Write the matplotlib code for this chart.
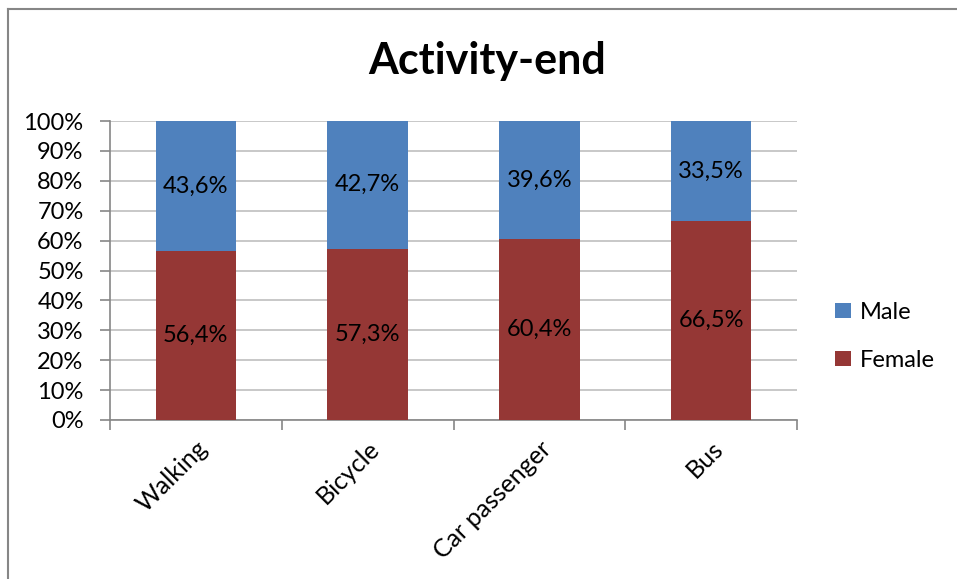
import matplotlib.pyplot as plt
from matplotlib.lines import Line2D
import numpy as np

categories = ['Walking', 'Bicycle', 'Car passenger', 'Bus']
female = [56.4, 57.3, 60.4, 66.5]
male = [43.6, 42.7, 39.6, 33.5]

BLUE = '#4F81BD'
RED = '#953735'

plt.rcParams['font.family'] = ['Lato', 'DejaVu Sans']

fig = plt.figure(figsize=(9.57, 5.79), dpi=100)
ax = fig.add_axes([110 / 957, 1 - 420 / 579, 687 / 957, 299 / 579])

x = np.arange(len(categories))
b1 = ax.bar(x, female, width=0.47, color=RED, label='Female', zorder=3)
b2 = ax.bar(x, male, width=0.47, bottom=female, color=BLUE, label='Male', zorder=3)

for bars, vals in ((b1, female), (b2, male)):
    labels = [f'{v:.1f}%'.replace('.', ',') for v in vals]
    ax.bar_label(bars, labels=labels, label_type='center', fontsize=17, color='black')

ax.set_xlim(-0.5, len(categories) - 0.5)
ax.set_ylim(0, 100)
ax.set_yticks(range(0, 101, 10))
ax.set_yticklabels([f'{v}%' for v in range(0, 101, 10)], fontsize=17)
ax.grid(axis='y', color='#BFBFBF', linewidth=1.2, zorder=0)

ax.set_xticks(x)
ax.set_xticklabels(categories, fontsize=18, rotation=45, ha='right', rotation_mode='anchor')
ax.tick_params(axis='x', length=0, pad=12)
# category boundary ticks along the bottom axis
ax.set_xticks(np.arange(-0.5, len(categories)), minor=True)
ax.tick_params(axis='x', which='minor', length=7, color='#868686', width=1.2)
ax.tick_params(axis='y', length=7, color='#868686', width=1.2, pad=12)

for side in ('top', 'right'):
    ax.spines[side].set_visible(False)
for side in ('left', 'bottom'):
    ax.spines[side].set_color('#868686')
    ax.spines[side].set_linewidth(1.2)

fig.text(487 / 957, 1 - 61 / 579, 'Activity-end', fontsize=31, fontweight='bold',
         ha='center', va='center')

handles, labs = ax.get_legend_handles_labels()
ax.legend(handles[::-1], labs[::-1], loc='center left', bbox_to_anchor=(1.025, 0.28),
          frameon=False, fontsize=17, handlelength=0.65, handleheight=0.65,
          handletextpad=0.4, labelspacing=1.15)

# outer chart frame (top and left edges)
fig.add_artist(Line2D([8 / 957, 8 / 957], [0, 1 - 9 / 579], color='#868686', lw=1.5))
fig.add_artist(Line2D([8 / 957, 1], [1 - 9 / 579, 1 - 9 / 579], color='#868686', lw=1.5))

fig.savefig('out.png', dpi=100)
